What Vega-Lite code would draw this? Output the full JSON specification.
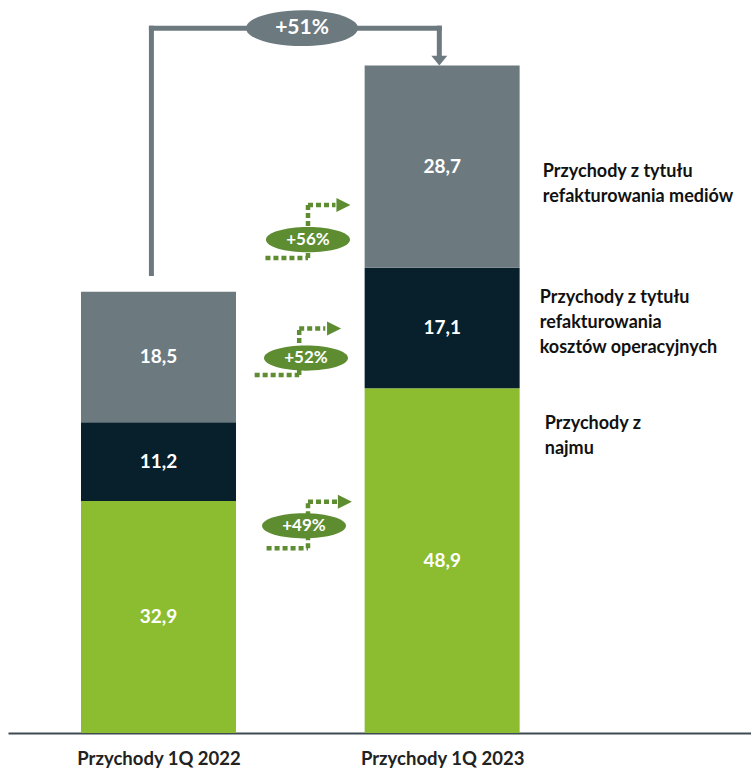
{
  "$schema": "https://vega.github.io/schema/vega-lite/v6.json",
  "width": 743,
  "height": 733,
  "autosize": {"type": "none"},
  "padding": {"left": 8, "top": 0, "right": 0, "bottom": 38},
  "config": {
    "view": {"stroke": null},
    "font": "Lato",
    "locale": {"number": {"decimal": ",", "thousands": " ", "grouping": [3], "currency": ["", " zł"]}}
  },
  "datasets": {
    "bars": [
      {"period": "Przychody 1Q 2022", "idx": 1, "segment": "Przychody z najmu", "order": 1, "value": 32.9},
      {"period": "Przychody 1Q 2022", "idx": 1, "segment": "Przychody z tytułu refakturowania kosztów operacyjnych", "order": 2, "value": 11.2},
      {"period": "Przychody 1Q 2022", "idx": 1, "segment": "Przychody z tytułu refakturowania mediów", "order": 3, "value": 18.5},
      {"period": "Przychody 1Q 2023", "idx": 2, "segment": "Przychody z najmu", "order": 1, "value": 48.9},
      {"period": "Przychody 1Q 2023", "idx": 2, "segment": "Przychody z tytułu refakturowania kosztów operacyjnych", "order": 2, "value": 17.1},
      {"period": "Przychody 1Q 2023", "idx": 2, "segment": "Przychody z tytułu refakturowania mediów", "order": 3, "value": 28.7}
    ],
    "conn": [
      {"x": 0.975, "x2": 0.975, "y": 65.2, "y2": 100},
      {"x": 0.975, "x2": 1.99, "y": 100, "y2": 100},
      {"x": 1.99, "x2": 1.99, "y": 100, "y2": 96.0}
    ],
    "connArrow": [{"x": 1.99, "y": 95.4}],
    "total": [{"x": 1.506, "y": 100, "label": "+51%"}],
    "dots": [
      {"x": 1.377, "x2": 1.527, "y": 67.4, "y2": 67.4},
      {"x": 1.527, "x2": 1.527, "y": 67.4, "y2": 74.9},
      {"x": 1.527, "x2": 1.624, "y": 74.9, "y2": 74.9},
      {"x": 1.339, "x2": 1.496, "y": 50.8, "y2": 50.8},
      {"x": 1.496, "x2": 1.496, "y": 50.8, "y2": 57.4},
      {"x": 1.496, "x2": 1.588, "y": 57.4, "y2": 57.4},
      {"x": 1.381, "x2": 1.527, "y": 26.2, "y2": 26.2},
      {"x": 1.527, "x2": 1.527, "y": 26.2, "y2": 32.8},
      {"x": 1.527, "x2": 1.63, "y": 32.8, "y2": 32.8}
    ],
    "heads": [
      {"x": 1.652, "y": 74.9},
      {"x": 1.619, "y": 57.4},
      {"x": 1.657, "y": 32.8}
    ],
    "growth": [
      {"x": 1.527, "y": 70.0, "label": "+56%"},
      {"x": 1.52, "y": 53.2, "label": "+52%"},
      {"x": 1.513, "y": 29.4, "label": "+49%"}
    ],
    "legend": [
      {"x": 2.3548, "y": 79.6, "label": "Przychody z tytułu\nrefakturowania mediów"},
      {"x": 2.344, "y": 61.7, "label": "Przychody z tytułu\nrefakturowania\nkosztów operacyjnych"},
      {"x": 2.3617, "y": 43.8, "label": "Przychody z\nnajmu"}
    ]
  },
  "layer": [
    {
      "data": {"name": "bars"},
      "transform": [
        {"stack": "value", "groupby": ["idx"], "sort": [{"field": "order"}], "as": ["y0", "y1"]}
      ],
      "mark": {"type": "bar", "width": 155, "orient": "vertical"},
      "encoding": {
        "x": {
          "field": "idx", "type": "quantitative",
          "scale": {"domain": [0.487, 3.0713], "zero": false, "nice": false},
          "axis": {
            "values": [1, 2],
            "labelExpr": "datum.value == 1 ? 'Przychody 1Q 2022' : 'Przychody 1Q 2023'",
            "title": null, "ticks": false, "grid": false,
            "domainColor": "#3d4a50", "domainWidth": 2,
            "labelFont": "Lato", "labelFontSize": 18.5, "labelFontWeight": "bold",
            "labelColor": "#222222", "labelPadding": 16, "labelFlush": false, "labelOverlap": false
          }
        },
        "y": {"field": "y1", "type": "quantitative", "scale": {"domain": [0, 104], "nice": false}, "axis": null},
        "y2": {"field": "y0"},
        "color": {
          "field": "segment", "type": "nominal", "legend": null,
          "scale": {
            "domain": ["Przychody z najmu", "Przychody z tytułu refakturowania kosztów operacyjnych", "Przychody z tytułu refakturowania mediów"],
            "range": ["#8cbd30", "#07202b", "#6c7a80"]
          }
        }
      }
    },
    {
      "data": {"name": "bars"},
      "transform": [
        {"stack": "value", "groupby": ["idx"], "sort": [{"field": "order"}], "as": ["y0", "y1"]},
        {"calculate": "(datum.y0 + datum.y1) / 2", "as": "mid"}
      ],
      "mark": {"type": "text", "color": "white", "fontWeight": "bold", "fontSize": 19, "font": "Lato", "baseline": "middle", "align": "center"},
      "encoding": {
        "x": {"field": "idx", "type": "quantitative"},
        "y": {"field": "mid", "type": "quantitative"},
        "text": {"field": "value", "type": "quantitative", "format": ".1f"}
      }
    },
    {
      "data": {"name": "conn"},
      "mark": {"type": "rule", "color": "#6c7a80", "strokeWidth": 5, "strokeCap": "square"},
      "encoding": {
        "x": {"field": "x", "type": "quantitative"},
        "x2": {"field": "x2"},
        "y": {"field": "y", "type": "quantitative"},
        "y2": {"field": "y2"}
      }
    },
    {
      "data": {"name": "connArrow"},
      "mark": {"type": "point", "shape": "M-1,-0.6L1,-0.6L0,0.6Z", "size": 256, "filled": true, "color": "#6c7a80", "opacity": 1},
      "encoding": {
        "x": {"field": "x", "type": "quantitative"},
        "y": {"field": "y", "type": "quantitative"}
      }
    },
    {
      "data": {"name": "total"},
      "mark": {"type": "point", "shape": "M-1,0C-1,-0.1767,-0.5523,-0.32,0,-0.32C0.5523,-0.32,1,-0.1767,1,0C1,0.1767,0.5523,0.32,0,0.32C-0.5523,0.32,-1,0.1767,-1,0Z", "size": 12544, "filled": true, "color": "#6c7a80", "opacity": 1},
      "encoding": {
        "x": {"field": "x", "type": "quantitative"},
        "y": {"field": "y", "type": "quantitative"}
      }
    },
    {
      "data": {"name": "total"},
      "mark": {"type": "text", "color": "white", "fontWeight": "bold", "fontSize": 21, "font": "Lato", "baseline": "middle", "align": "center"},
      "encoding": {
        "x": {"field": "x", "type": "quantitative"},
        "y": {"field": "y", "type": "quantitative"},
        "text": {"field": "label", "type": "nominal"}
      }
    },
    {
      "data": {"name": "dots"},
      "mark": {"type": "rule", "color": "#5e8c31", "strokeWidth": 4.5, "strokeDash": [5, 3], "strokeCap": "butt"},
      "encoding": {
        "x": {"field": "x", "type": "quantitative"},
        "x2": {"field": "x2"},
        "y": {"field": "y", "type": "quantitative"},
        "y2": {"field": "y2"}
      }
    },
    {
      "data": {"name": "heads"},
      "mark": {"type": "point", "shape": "M-1,-1L1,0L-1,1Z", "size": 196, "filled": true, "color": "#5e8c31", "opacity": 1},
      "encoding": {
        "x": {"field": "x", "type": "quantitative"},
        "y": {"field": "y", "type": "quantitative"}
      }
    },
    {
      "data": {"name": "growth"},
      "mark": {"type": "point", "shape": "M-1,0C-1,-0.1657,-0.5523,-0.3,0,-0.3C0.5523,-0.3,1,-0.1657,1,0C1,0.1657,0.5523,0.3,0,0.3C-0.5523,0.3,-1,0.1657,-1,0Z", "size": 7056, "filled": true, "color": "#5e8c31", "opacity": 1},
      "encoding": {
        "x": {"field": "x", "type": "quantitative"},
        "y": {"field": "y", "type": "quantitative"}
      }
    },
    {
      "data": {"name": "growth"},
      "mark": {"type": "text", "color": "white", "fontWeight": "bold", "fontSize": 17, "font": "Lato", "baseline": "middle", "align": "center"},
      "encoding": {
        "x": {"field": "x", "type": "quantitative"},
        "y": {"field": "y", "type": "quantitative"},
        "text": {"field": "label", "type": "nominal"}
      }
    },
    {
      "data": {"name": "legend"},
      "mark": {"type": "text", "color": "#111111", "fontWeight": "bold", "fontSize": 18, "font": "Lato", "baseline": "middle", "align": "left", "lineBreak": "\n", "lineHeight": 25},
      "encoding": {
        "x": {"field": "x", "type": "quantitative"},
        "y": {"field": "y", "type": "quantitative"},
        "text": {"field": "label", "type": "nominal"}
      }
    }
  ]
}
